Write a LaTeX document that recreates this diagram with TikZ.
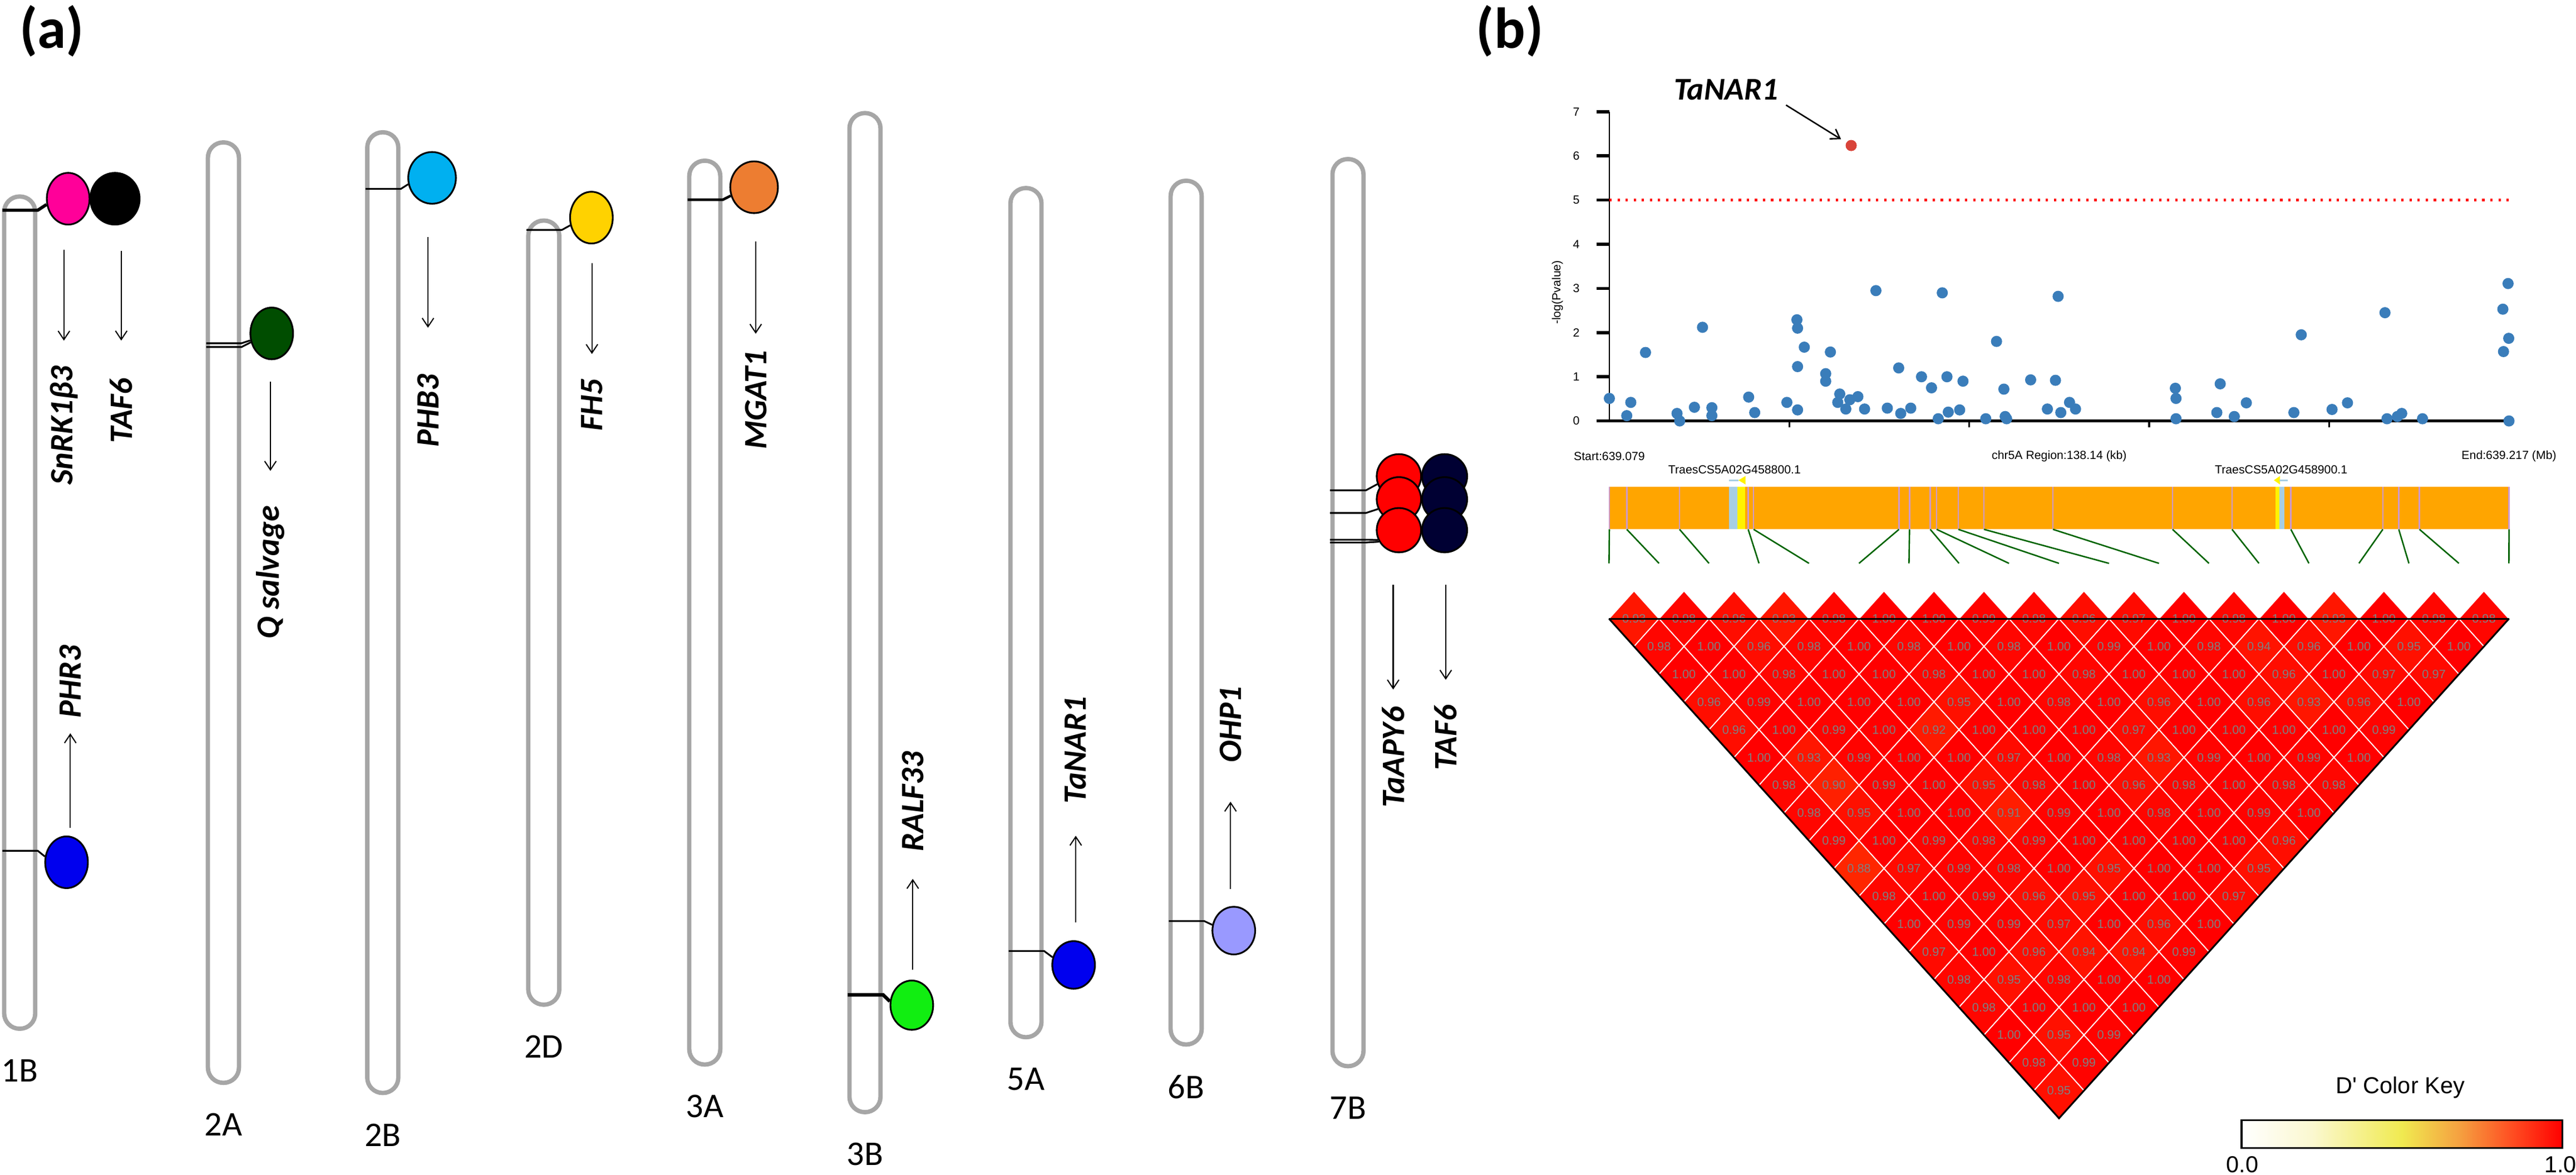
\documentclass[tikz,border=0pt]{standalone}
\usepackage{fontspec}
\setmainfont{Carlito}
\newfontfamily\plotfont{Liberation Sans}
\usetikzlibrary{shapes.geometric,arrows.meta,positioning}

\definecolor{chromgray}{HTML}{A6A6A6}
\definecolor{snrkpink}{HTML}{FF0099}
\definecolor{qgreen}{HTML}{004D00}
\definecolor{phbblue}{HTML}{00B0F0}
\definecolor{fhgold}{HTML}{FFD200}
\definecolor{mgatorange}{HTML}{ED7D31}
\definecolor{ralfgreen}{HTML}{11EE11}
\definecolor{narblue}{HTML}{0000EE}
\definecolor{ohplilac}{HTML}{9999FF}
\definecolor{tafnavy}{HTML}{000033}
\definecolor{snpblue}{HTML}{3A7DBA}
\definecolor{hitred}{HTML}{D9443A}
\definecolor{barorange}{HTML}{FFA500}
\definecolor{snpline}{HTML}{CC99CC}
\definecolor{ldgreen}{HTML}{006400}
\definecolor{utrblue}{HTML}{A6CEE3}
\definecolor{ldorange}{HTML}{FF8000}
\definecolor{keypale}{HTML}{FBF8D0}
\definecolor{keyyellow}{HTML}{F0EA50}
\definecolor{keyorange}{HTML}{F5A040}
\definecolor{keyred}{HTML}{FF4A20}

\pgfdeclarehorizontalshading{ldkey}{100bp}{color(0bp)=(white); color(25bp)=(white);
    color(36bp)=(keypale); color(50bp)=(keyyellow); color(59bp)=(keyorange);
    color(67.5bp)=(keyred); color(75bp)=(red); color(100bp)=(red)}

\begin{document}
\begin{tikzpicture}[x=0.02cm, y=-0.02cm,
    chrom/.style={draw=chromgray, line width=1.5pt, fill=white, rounded corners=5.3pt,
                  minimum width=0.378cm, inner sep=0pt},
    chrlab/.style={font=\fontsize{12}{14}\selectfont, inner sep=0pt},
    locus/.style={ellipse, draw, line width=0.6pt, inner sep=0pt,
                  minimum width=0.52cm, minimum height=0.63cm},
    gene/.style={rotate=90, inner sep=0pt, font=\fontsize{11.3}{13}\selectfont\bfseries\itshape},
    link/.style={line width=0.6pt},
    gar/.style={line width=0.4pt, -{Straight Barb[length=3pt,width=4pt]}},
    panel/.style={font=\fontsize{20}{24}\selectfont\bfseries},
    ptxt/.style={font=\plotfont\fontsize{4.1}{5}\selectfont, inner sep=0pt},
    ldval/.style={font=\plotfont\fontsize{4.2}{5}\selectfont, text=gray, inner sep=0pt},
    keytxt/.style={font=\plotfont\fontsize{8}{9}\selectfont, inner sep=0pt}]

    \useasboundingbox (0,0) rectangle (1568,715.4);

    % Panel letters
    \node[panel] (pa) at (31.5,19) {(a)};
    \node[panel] (pb) at (919,19) {(b)};

    % Chromosomes
    \node[chrom, minimum height=10.136cm] (c1B) at (12,373) {};
    \node[chrom, minimum height=11.454cm] (c2A) at (136,373) {};
    \node[chrom, minimum height=11.7cm] (c2B) at (233,373) {};
    \node[chrom, minimum height=9.55cm] (c2D) at (331,373) {};
    \node[chrom, minimum height=11.008cm] (c3A) at (429,373) {};
    \node[chrom, minimum height=12.168cm] (c3B) at (526.5,373) {};
    \node[chrom, minimum height=10.342cm] (c5A) at (624.5,373) {};
    \node[chrom, minimum height=10.52cm] (c6B) at (722,373) {};
    \node[chrom, minimum height=11.048cm] (c7B) at (820.5,373) {};

    \node[chrlab, below=0.34cm of c1B] (l1B) {1B};
    \node[chrlab, below=0.34cm of c2A] (l2A) {2A};
    \node[chrlab, below=0.34cm of c2B] (l2B) {2B};
    \node[chrlab, below=0.34cm of c2D] (l2D) {2D};
    \node[chrlab, below=0.34cm of c3A] (l3A) {3A};
    \node[chrlab, below=0.34cm of c3B] (l3B) {3B};
    \node[chrlab, below=0.34cm of c5A] (l5A) {5A};
    \node[chrlab, below=0.34cm of c6B] (l6B) {6B};
    \node[chrlab, below=0.34cm of c7B] (l7B) {7B};

    % Gene loci
    \node[locus, fill=snrkpink] (snrk) at (41.5,121) {};
    \node[locus, fill=black, minimum width=0.6cm] (taf) at (70,121) {};
    \node[locus, fill=narblue] (phr) at (40.5,525) {};
    \node[locus, fill=qgreen] (qsal) at (165.4,203) {};
    \node[locus, fill=phbblue, minimum width=0.58cm] (phb) at (263,108.3) {};
    \node[locus, fill=fhgold] (fh) at (360,132.5) {};
    \node[locus, fill=mgatorange, minimum width=0.58cm] (mgat) at (459,114) {};
    \node[locus, fill=ralfgreen, minimum height=0.6cm] (ralf) at (555,612) {};
    \node[locus, fill=narblue, minimum height=0.58cm] (nar) at (653.5,587.5) {};
    \node[locus, fill=ohplilac, minimum height=0.58cm] (ohp) at (751,566.6) {};
    \node[locus, fill=red, minimum width=0.54cm, minimum height=0.54cm] (apyA) at (851.5,290) {};
    \node[locus, fill=red, minimum width=0.54cm, minimum height=0.54cm] (apyB) at (851.5,304) {};
    \node[locus, fill=red, minimum width=0.54cm, minimum height=0.54cm] (apyC) at (851.5,322.8) {};
    \node[locus, fill=tafnavy, minimum width=0.55cm, minimum height=0.54cm] (tafA) at (879.3,290) {};
    \node[locus, fill=tafnavy, minimum width=0.55cm, minimum height=0.54cm] (tafB) at (879.3,304) {};
    \node[locus, fill=tafnavy, minimum width=0.55cm, minimum height=0.54cm] (tafC) at (879.3,322.8) {};

    % Links from chromosome to locus
    \coordinate (m1) at (1.5,128);
    \coordinate (m2) at (1.5,518);
    \coordinate (m3) at (125.5,209);
    \coordinate (m4) at (125.5,211.3);
    \coordinate (m5) at (222.5,115);
    \coordinate (m6) at (320.5,140);
    \coordinate (m7) at (418.5,121.6);
    \coordinate (m8) at (516,605.7);
    \coordinate (m9) at (614,579);
    \coordinate (m10) at (711.5,560.8);
    \coordinate (m11) at (809.5,298.5);
    \coordinate (m12) at (809.5,312.3);
    \coordinate (m13) at (809.5,328.6);
    \coordinate (m14) at (809.5,330.3);
    \draw[link, line width=1.1pt] (m1) -- ++(21.5,0) -- (snrk.195);
    \draw[link] (m2) -- ++(21.5,0) -- (phr.165);
    \draw[link] (m3) -- ++(21.5,0) -- (qsal.198);
    \draw[link] (m4) -- ++(21.5,0) -- (qsal.203);
    \draw[link] (m5) -- ++(21.5,0) -- (phb.195);
    \draw[link] (m6) -- ++(21.5,0) -- (fh.200);
    \draw[link, line width=0.9pt] (m7) -- ++(21.5,0) -- (mgat.200);
    \draw[link, line width=1.2pt] (m8) -- ++(21.5,0) -- (ralf.170);
    \draw[link] (m9) -- ++(21.5,0) -- (nar.160);
    \draw[link] (m10) -- ++(21.5,0) -- (ohp.165);
    \draw[link] (m11) -- ++(22,0) -- (apyA.200);
    \draw[link] (m12) -- ++(22,0) -- (apyB.205);
    \draw[link] (m13) -- ++(22,0) -- (apyC.205);
    \draw[link] (m14) -- ++(22,0) -- (apyC.210);

    % Gene names
    \node[gene] (lsnrk) at (38.9,259) {SnRK1β3};
    \node[gene] (ltaf) at (73.8,250) {TAF6};
    \node[gene] (lphr) at (42.8,415) {PHR3};
    \node[gene] (lqsal) at (164.6,348.5) {Q salvage};
    \node[gene] (lphb) at (260.5,250) {PHB3};
    \node[gene] (lfh) at (360.3,246.5) {FH5};
    \node[gene] (lmgat) at (460,243.4) {MGAT1};
    \node[gene] (lralf) at (555.6,488) {RALF33};
    \node[gene] (lnar) at (654.8,456.6) {TaNAR1};
    \node[gene] (lohp) at (749,441) {OHP1};
    \node[gene] (lapy) at (848,461) {TaAPY6};
    \node[gene] (ltafb) at (880,449) {TAF6};

    % Arrows from loci to names
    \draw[gar, shorten <=8.5pt, shorten >=8.5pt] (snrk.south -| lsnrk) -- (lsnrk.east);
    \draw[gar, shorten <=8.8pt, shorten >=12.8pt] (taf.south -| ltaf) -- (ltaf.east);
    \draw[gar, shorten <=2.7pt, shorten >=5.1pt] (phr.north -| lphr) -- (lphr.west);
    \draw[gar, shorten <=7.4pt, shorten >=11.9pt] (qsal.south -| lqsal) -- (lqsal.east);
    \draw[gar, shorten <=11.3pt, shorten >=15.9pt] (phb.south -| lphb) -- (lphb.east);
    \draw[gar, shorten <=6.6pt, shorten >=8.4pt] (fh.south -| lfh) -- (lfh.east);
    \draw[gar, shorten <=9.6pt, shorten >=5.5pt] (mgat.south -| lmgat) -- (lmgat.east);
    \draw[gar, shorten <=3.4pt, shorten >=9.3pt] (ralf.north -| lralf) -- (lralf.west);
    \draw[gar, shorten <=6.2pt, shorten >=11pt] (nar.north -| lnar) -- (lnar.west);
    \draw[gar, shorten <=5.8pt, shorten >=13.4pt] (ohp.north -| lohp) -- (lohp.west);
    \draw[gar, shorten <=11pt, shorten >=5.7pt] (apyC.south -| lapy) -- (lapy.east);
    \draw[gar, shorten <=11pt, shorten >=8.5pt] (tafC.south -| ltafb) -- (ltafb.east);

    % Association plot
    \draw[line width=0.4pt] (979.6,68) -- (979.6,256.3);
    \foreach \v in {0,...,7} {
        \draw[line width=1.1pt] (971.7,{256.3-26.9*\v}) -- (979.6,{256.3-26.9*\v});
        \node[ptxt] (yt\v) at (959.5,{256.3-26.9*\v}) {\v};
    }
    \node[ptxt, rotate=90] (ylab) at (948,178) {-log(Pvalue)};
    \draw[line width=0.9pt] (979.6,256.3) -- (1527.2,256.3);
    \foreach \t in {1,...,4}
        \draw[line width=0.6pt] ({979.6+\t*109.52},256.3) -- ++(0,4);
    \draw[red, dotted, line width=0.8pt] (979.6,121.8) -- (1529,121.8);
    \foreach \kb/\lp in {0/0.51, 3.29/0.42, 2.67/0.12, 5.55/1.55, 10.39/0.17, 10.8/0.0,
        13.06/0.31, 14.30/2.12, 15.74/0.30, 15.74/0.12, 21.39/0.54, 22.32/0.19,
        27.26/0.42, 28.80/2.29, 28.90/2.10, 28.90/1.23, 28.90/0.25, 29.93/1.67,
        33.94/1.56, 33.22/1.07, 33.22/0.90, 35.38/0.61, 35.07/0.42, 36.31/0.27,
        36.92/0.48, 38.16/0.55, 39.19/0.27, 40.93/2.95, 42.68/0.29, 44.43/1.20,
        44.74/0.17, 46.28/0.29, 47.93/1.00, 49.47/0.75, 50.50/0.05, 51.12/2.90,
        51.84/1.00, 52.04/0.20, 53.79/0.25, 54.30/0.90, 57.80/0.05, 59.45/1.80,
        60.58/0.72, 60.78/0.10, 61.0/0.05, 64.69/0.93, 67.26/0.27, 68.50/0.92,
        68.91/2.82, 69.32/0.19, 70.66/0.42, 71.58/0.27, 86.91/0.74, 87.01/0.51,
        87.01/0.05, 93.28/0.19, 93.80/0.84, 95.96/0.10, 97.81/0.41, 105.11/0.19,
        106.24/1.95, 110.97/0.26, 113.34/0.41, 119.10/2.45, 119.41/0.05,
        121.0/0.1, 121.67/0.17, 124.86/0.05, 137.20/2.53, 138.0/3.11, 138.1/1.87,
        137.3/1.57, 138.14/0.0}
        \fill[snpblue] ({979.6+\kb*3.964},{256.3-26.9*\lp}) circle (3.4);
    \node[circle, fill=hitred, inner sep=0pt, minimum size=0.136cm] (hit) at (1126.8,88.6) {};
    \node[font=\fontsize{11}{13}\selectfont\bfseries\itshape, inner sep=0pt] (lhit) at (1050.6,54.5) {TaNAR1};
    \draw[gar, line width=0.5pt, shorten <=3pt, shorten >=2pt] (lhit.south east) -- (hit);

    % Gene track
    \node[ptxt] (tstart) at (979.6,277.8) {Start:639.079};
    \node[ptxt] (tregion) at (1253.4,277.8) {chr5A Region:138.14 (kb)};
    \node[ptxt] (tend) at (1527.2,277.8) {End:639.217 (Mb)};
    \node[ptxt] (g1) at (1055.8,286) {TraesCS5A02G458800.1};
    \node[ptxt] (g2) at (1388.5,286) {TraesCS5A02G458900.1};
    \fill[barorange] (979.6,296.5) rectangle (1527.2,322.3);
    \fill[utrblue] (1052.4,296.5) rectangle (1057.4,322.3);
    \fill[yellow] (1057.4,296.5) rectangle (1062.1,322.3);
    \fill[yellow] (1385,296.5) rectangle (1387.6,322.3);
    \fill[utrblue] (1387.6,296.5) rectangle (1390.5,322.3);
    \draw[utrblue, line width=0.5pt] (1052.4,292.4) -- (1058.2,292.4);
    \fill[yellow] (1058.2,292.4) -- (1062.5,289.8) -- (1062.5,295) -- cycle;
    \fill[yellow] (1384.1,292.4) -- (1387.8,289.8) -- (1387.8,295) -- cycle;
    \draw[utrblue, line width=0.5pt] (1387.6,292.4) -- (1392.4,292.4);
    \foreach \b [count=\k] in {979.6,990.2,1022.3,1064.1,1067.4,1155.9,1162.3,1174.9,
        1178.8,1192,1207.6,1249.6,1322.4,1358.6,1394.4,1450.4,1460.1,1472.7,1527.2} {
        \draw[snpline, line width=0.5pt] (\b,296.5) -- (\b,322.3);
        \draw[ldgreen, line width=0.5pt] (\b,322.3) -- ({979.4+(\k-1)*30.43},343);
    }

    % LD heatmap
    \foreach \row [count=\r] in {
        {0.93,0.98,0.96,0.93,0.98,1.00,1.00,0.99,0.98,0.96,0.97,1.00,0.98,1.00,0.93,1.00,0.98,0.98},
        {0.98,1.00,0.96,0.98,1.00,0.98,1.00,0.98,1.00,0.99,1.00,0.98,0.94,0.96,1.00,0.95,1.00},
        {1.00,1.00,0.98,1.00,1.00,0.98,1.00,1.00,0.98,1.00,1.00,1.00,0.96,1.00,0.97,0.97},
        {0.96,0.99,1.00,1.00,1.00,0.95,1.00,0.98,1.00,0.96,1.00,0.96,0.93,0.96,1.00},
        {0.96,1.00,0.99,1.00,0.92,1.00,1.00,1.00,0.97,1.00,1.00,1.00,1.00,0.99},
        {1.00,0.93,0.99,1.00,1.00,0.97,1.00,0.98,0.93,0.99,1.00,0.99,1.00},
        {0.98,0.90,0.99,1.00,0.95,0.98,1.00,0.96,0.98,1.00,0.98,0.98},
        {0.98,0.95,1.00,1.00,0.91,0.99,1.00,0.98,1.00,0.99,1.00},
        {0.99,1.00,0.99,0.98,0.99,1.00,1.00,1.00,1.00,0.96},
        {0.88,0.97,0.99,0.98,1.00,0.95,1.00,1.00,0.95},
        {0.98,1.00,0.99,0.96,0.95,1.00,1.00,0.97},
        {1.00,0.99,0.99,0.97,1.00,0.96,1.00},
        {0.97,1.00,0.96,0.94,0.94,0.99},
        {0.98,0.95,0.98,1.00,1.00},
        {0.98,1.00,1.00,1.00},
        {1.00,0.95,0.99},
        {0.98,0.99},
        {0.95}} {
        \foreach \v [count=\i] in \row {
            \pgfmathsetmacro\cx{979.4+(\i-1)*30.43+\r*15.215}
            \pgfmathsetmacro\cy{376.7+(\r-1)*16.9}
            \pgfmathsetmacro\pr{100-(1-\v)*250}
            \filldraw[draw=white, line width=0.35pt, fill=red!\pr!ldorange]
                (\cx-15.215,\cy) -- (\cx,\cy-16.9) -- (\cx+15.215,\cy) -- (\cx,\cy+16.9) -- cycle;
            \node[ldval] (ld-\r-\i) at (\cx,\cy) {\v};
        }
    }
    \draw[line width=0.6pt] (979.4,376.7) -- (1527.2,376.7);
    \draw[line width=0.6pt] (979.4,376.7) -- (1253.3,680.9) -- (1527.2,376.7);

    % Colour key
    \node[keytxt] (keyt) at (1461,662) {D\textquotesingle{} Color Key};
    \shade[shading=ldkey] (1364.4,682) rectangle (1559.8,699);
    \draw[line width=0.6pt] (1364.4,682) rectangle (1559.8,699);
    \node[keytxt] (k0) at (1365,709) {0.0};
    \node[keytxt] (k1) at (1558.5,709) {1.0};

\end{tikzpicture}
\end{document}
